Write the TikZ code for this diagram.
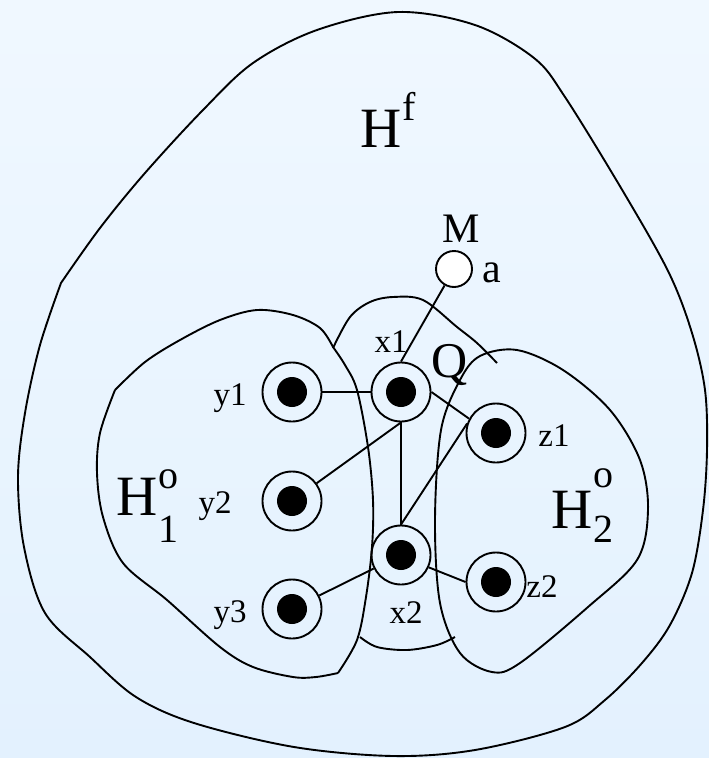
\documentclass[tikz,border=0pt]{standalone}
\usepackage{fontspec}
\setmainfont{Liberation Serif}
\usetikzlibrary{positioning}

\definecolor{bgtop}{RGB}{240,248,255}
\definecolor{bgbot}{RGB}{227,241,254}

\newcommand{\supsize}{\fontsize{40}{40}\selectfont}

\begin{document}
\begin{tikzpicture}[x=1pt,y=-1pt,line width=1.9pt,
  site/.style={circle,draw,minimum size=59pt,inner sep=0pt,
    path picture={\fill (path picture bounding box.center) circle (15pt);}},
  lbl/.style={font=\fontsize{33}{33}\selectfont,inner sep=0pt,anchor=base},
  big/.style={font=\fontsize{57}{57}\selectfont,inner sep=0pt,anchor=base west},
  region/.style={draw,line join=round,tension=0.55}]
  \useasboundingbox (0,0) rectangle (709,758);
  \shade[top color=bgtop,bottom color=bgbot] (0,0) rectangle (709,758);

  % regions
  \draw[region] plot[smooth] coordinates {(61,283) (100,228) (145,173) (203,110)
    (253,63) (317,30) (398,12) (475,25) (534,58) (565,97) (624,193) (669,273)
    (692,333) (705,390) (707,450) (703,510) (692,573) (670,625) (642,663)
    (605,700) (565,727) (475,750) (393,756) (294,747) (194,723) (136,697)
    (90,657) (45,613) (24,547) (18,477) (25,413) (40,345) (61,283)};
  \draw[region] plot[smooth] coordinates {(115,390) (145,362) (180,340) (220,320)
    (257,310) (293,315) (320,328) (333,347)};
  \draw[region] plot[smooth] coordinates {(333,347) (345,365) (357,390) (368,447)
    (373,500) (372,547) (366,597) (357,640) (338,673)};
  \draw[region] plot[smooth] coordinates {(338,673) (316,677) (293,677) (253,667)
    (220,647) (167,600) (123,563) (103,517) (97,473) (100,433) (115,390)};
  \draw[region] plot[smooth cycle] coordinates {(517,350) (563,370) (610,410)
    (640,460) (648,510) (637,560) (588,607) (520,663) (492,672) (460,653)
    (440,603) (435,520) (441,430) (460,380) (480,356)};
  \draw[region] plot[smooth] coordinates {(333,348) (350,317) (370,302) (393,297)
    (423,300) (457,327) (477,343) (497,363)};
  \draw[region] plot[smooth] coordinates {(360,637) (377,647) (407,650) (437,645)
    (455,637)};

  % sites
  \node[site] (x1) at (401,392) {};
  \node[site] (x2) at (401,555) {};
  \node[site] (y1) at (292,392) {};
  \node[site] (y2) at (292,501) {};
  \node[site] (y3) at (292,609) {};
  \node[site] (z1) at (496,433) {};
  \node[site] (z2) at (496,582) {};
  \node[circle,draw,fill=white,minimum size=36pt,inner sep=0pt] (a) at (454,269) {};

  \draw (y1) -- (x1);
  \draw (a) -- (x1.north);
  \draw (x1.south) -- (y2);
  \draw (x1.south) -- (x2.north);
  \draw (x1.east) -- (z1.152);
  \draw (x2.north) -- (z1.162);
  \draw (x2) -- (y3);
  \draw (x2.-24) -- (z2.west);

  % labels
  \node[lbl] (y1txt) at (230,405) {y1};
  \node[lbl] (y2txt) at (215,513) {y2};
  \node[lbl] (y3txt) at (230,622) {y3};
  \node[lbl] (x1txt) at (391,352) {x1};
  \node[lbl] (x2txt) at (406,623) {x2};
  \node[lbl] (z1txt) at (554,446) {z1};
  \node[lbl] (z2txt) at (542,597) {z2};
  \node[lbl,font=\fontsize{42}{42}\selectfont] (Mtxt) at (461,242) {M};
  \node[lbl,font=\fontsize{42}{42}\selectfont] (atxt) at (492,282) {a};
  \node[lbl,font=\fontsize{50}{50}\selectfont] (Qtxt) at (450,377) {Q};
  \node[big] (Hf) at (360,147) {H\raisebox{27pt}{\supsize f}};
  \node[big] (H1) at (116,515) {H\rlap{\raisebox{27pt}{\supsize o}}\raisebox{-27pt}{\supsize 1}};
  \node[big] (H2) at (551,528) {H\rlap{\raisebox{41pt}{\supsize o}}\raisebox{-14pt}{\supsize 2}};
\end{tikzpicture}
\end{document}
